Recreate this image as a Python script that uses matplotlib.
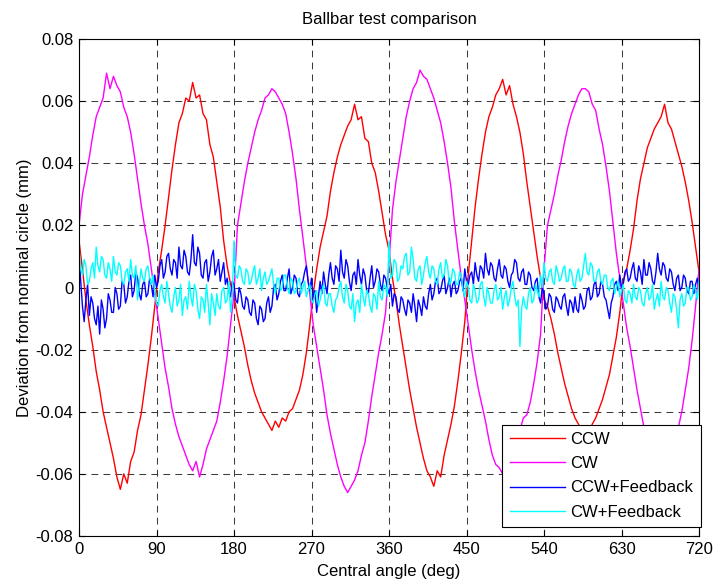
import numpy as np
import matplotlib
matplotlib.use("Agg")
import matplotlib.pyplot as plt

plt.rcParams['font.family'] = ['Liberation Sans', 'DejaVu Sans']
plt.rcParams['axes.unicode_minus'] = False

# open-loop runs sampled every 4 deg, feedback runs every 2 deg
angle = np.arange(0, 724, 4)
angle_fb = np.arange(0, 722, 2)

ccw = [
    0.015, 0.006, -0.004, -0.012, -0.019, -0.027, -0.033, -0.040, -0.045, -0.050,
    -0.055, -0.061, -0.065, -0.060, -0.063, -0.056, -0.053, -0.046, -0.041, -0.033,
    -0.025, -0.016, -0.006, 0.005, 0.012, 0.020, 0.029, 0.038, 0.046, 0.053,
    0.056, 0.061, 0.060, 0.066, 0.061, 0.062, 0.056, 0.054, 0.046, 0.042,
    0.034, 0.026, 0.015, 0.007, 0.001, -0.003, -0.009, -0.014, -0.019, -0.025,
    -0.030, -0.034, -0.037, -0.040, -0.042, -0.044, -0.046, -0.043, -0.045, -0.042,
    -0.043, -0.040, -0.039, -0.036, -0.033, -0.028, -0.021, -0.012, -0.002, 0.006,
    0.013, 0.018, 0.023, 0.031, 0.037, 0.042, 0.046, 0.049, 0.052, 0.054,
    0.059, 0.054, 0.055, 0.048, 0.047, 0.040, 0.037, 0.031, 0.024, 0.017,
    0.012, 0.003, -0.004, -0.012, -0.019, -0.026, -0.033, -0.039, -0.045, -0.050,
    -0.055, -0.059, -0.061, -0.064, -0.059, -0.061, -0.054, -0.049, -0.044, -0.038,
    -0.030, -0.021, -0.011, 0.004, 0.015, 0.026, 0.035, 0.043, 0.050, 0.055,
    0.058, 0.062, 0.064, 0.067, 0.062, 0.065, 0.059, 0.055, 0.050, 0.043,
    0.034, 0.026, 0.018, 0.010, 0.003, -0.004, -0.006, -0.010, -0.015, -0.021,
    -0.026, -0.031, -0.035, -0.039, -0.042, -0.044, -0.046, -0.045, -0.047, -0.044,
    -0.042, -0.039, -0.036, -0.032, -0.028, -0.022, -0.016, -0.008, 0.002, 0.006,
    0.012, 0.019, 0.028, 0.035, 0.040, 0.045, 0.048, 0.051, 0.053, 0.055,
    0.059, 0.053, 0.051, 0.047, 0.043, 0.039, 0.034, 0.028, 0.021, 0.013,
    0.005,
]

cw = [
    0.020, 0.030, 0.036, 0.042, 0.049, 0.055, 0.058, 0.061, 0.069, 0.064,
    0.068, 0.065, 0.063, 0.058, 0.055, 0.050, 0.043, 0.035, 0.027, 0.020,
    0.014, 0.006, -0.002, -0.010, -0.018, -0.026, -0.032, -0.039, -0.044, -0.048,
    -0.051, -0.054, -0.057, -0.059, -0.056, -0.061, -0.057, -0.052, -0.049, -0.046,
    -0.043, -0.037, -0.030, -0.022, -0.012, -0.002, 0.020, 0.027, 0.034, 0.040,
    0.045, 0.050, 0.054, 0.057, 0.061, 0.062, 0.064, 0.063, 0.061, 0.059,
    0.056, 0.050, 0.043, 0.035, 0.025, 0.016, 0.007, -0.002, -0.012, -0.019,
    -0.026, -0.033, -0.041, -0.047, -0.052, -0.057, -0.061, -0.064, -0.066, -0.064,
    -0.062, -0.059, -0.054, -0.050, -0.043, -0.035, -0.028, -0.021, -0.015, -0.008,
    0.008, 0.025, 0.034, 0.041, 0.048, 0.055, 0.060, 0.064, 0.066, 0.070,
    0.068, 0.067, 0.064, 0.061, 0.057, 0.053, 0.047, 0.040, 0.032, 0.021,
    0.012, 0.003, -0.004, -0.012, -0.020, -0.027, -0.033, -0.038, -0.043, -0.049,
    -0.054, -0.057, -0.058, -0.060, -0.058, -0.056, -0.053, -0.050, -0.046, -0.042,
    -0.041, -0.037, -0.031, -0.024, -0.015, 0.006, 0.020, 0.025, 0.030, 0.036,
    0.041, 0.047, 0.052, 0.056, 0.059, 0.062, 0.064, 0.064, 0.063, 0.059,
    0.057, 0.051, 0.046, 0.039, 0.031, 0.021, 0.011, 0.003, -0.005, -0.013,
    -0.019, -0.026, -0.033, -0.039, -0.045, -0.050, -0.054, -0.057, -0.059, -0.060,
    -0.058, -0.056, -0.052, -0.049, -0.045, -0.040, -0.033, -0.026, -0.017, -0.006,
    0.006,
]

ccw_fb = [
    0.010, 0.002, -0.006, -0.011, -0.004, 0.001, -0.009, -0.003, -0.005, -0.010,
    -0.012, -0.006, -0.015, -0.004, -0.007, -0.013, -0.010, -0.002, -0.004, -0.008,
    -0.008, 0.000, -0.002, -0.007, -0.006, 0.002, 0.001, -0.005, -0.003, 0.002,
    0.004, -0.003, -0.001, 0.005, 0.003, -0.002, -0.004, 0.001, 0.002, -0.003,
    -0.002, 0.003, 0.001, -0.003, 0.004, 0.000, 0.002, 0.007, 0.009, 0.003,
    0.005, 0.010, 0.011, 0.006, 0.004, 0.009, 0.008, 0.003, 0.013, 0.007,
    0.006, 0.012, 0.010, 0.005, 0.004, 0.009, 0.017, 0.008, 0.007, 0.013,
    0.011, 0.004, 0.003, 0.008, 0.009, 0.002, 0.005, 0.010, 0.012, 0.004,
    0.006, 0.009, 0.002, 0.005, 0.008, 0.001, 0.003, -0.001, -0.003, 0.002,
    0.001, -0.004, -0.005, 0.000, -0.002, -0.006, -0.007, -0.003, -0.004, -0.008,
    -0.009, -0.004, -0.005, -0.010, -0.012, -0.006, -0.007, -0.011, -0.010, -0.005,
    -0.003, -0.008, -0.006, 0.000, 0.001, -0.004, -0.002, 0.002, 0.004, -0.001,
    -0.001, 0.003, 0.006, -0.002, 0.000, 0.004, 0.003, -0.002, -0.003, 0.001,
    0.002, 0.005, 0.007, 0.002, -0.001, 0.003, -0.004, -0.001, -0.008, -0.003,
    0.002, -0.002, 0.005, 0.001, -0.002, 0.004, 0.008, 0.003, 0.001, 0.007,
    0.006, 0.002, 0.012, 0.005, 0.003, 0.009, 0.007, 0.002, -0.001, 0.004,
    0.005, 0.001, 0.009, 0.004, 0.001, 0.006, 0.004, -0.001, -0.002, 0.003,
    0.007, 0.000, 0.002, 0.006, 0.005, 0.001, -0.001, 0.004, 0.003, 0.000,
    -0.002, 0.001, -0.006, -0.002, -0.003, -0.007, -0.008, -0.003, -0.004, -0.007,
    -0.009, -0.004, -0.005, -0.008, -0.002, -0.006, -0.011, -0.004, -0.006, -0.009,
    -0.003, -0.006, -0.007, -0.002, 0.001, -0.004, -0.002, 0.002, 0.003, -0.002,
    -0.001, 0.002, 0.004, -0.002, 0.000, 0.003, -0.003, 0.001, 0.002, -0.002,
    -0.001, 0.002, 0.003, -0.001, 0.006, 0.002, 0.001, 0.004, 0.005, 0.001,
    0.008, 0.004, 0.002, 0.007, 0.006, 0.003, 0.011, 0.006, 0.004, 0.008,
    0.007, 0.003, 0.002, 0.006, 0.009, 0.004, 0.003, 0.007, 0.006, 0.002,
    0.000, 0.004, 0.005, 0.009, 0.008, 0.003, 0.002, 0.005, 0.006, 0.001,
    0.001, 0.005, 0.004, 0.000, -0.001, 0.002, 0.003, -0.003, -0.005, 0.000,
    -0.002, -0.007, -0.006, -0.002, -0.003, -0.007, -0.008, -0.003, -0.004, -0.006,
    -0.007, -0.003, -0.002, -0.006, -0.009, -0.004, -0.005, -0.008, -0.003, -0.007,
    -0.008, -0.002, -0.004, -0.007, -0.006, -0.001, 0.000, -0.004, -0.003, 0.001,
    0.002, -0.003, -0.002, 0.002, 0.001, -0.003, -0.004, -0.007, -0.010, -0.005,
    -0.003, 0.001, 0.002, -0.001, 0.004, 0.000, 0.001, 0.005, 0.006, 0.002,
    0.003, 0.006, 0.008, 0.003, 0.002, 0.007, 0.005, 0.001, 0.009, 0.004,
    0.004, 0.008, 0.006, 0.002, 0.001, 0.005, 0.011, 0.006, 0.004, 0.008,
    0.007, 0.003, 0.002, 0.006, 0.005, 0.001, -0.001, 0.003, 0.004, -0.001,
    0.000, 0.004, 0.003, -0.001, -0.002, 0.002, 0.002, -0.002, 0.001, 0.003,
    0.000,
]

cw_fb = [
    0.013, 0.006, 0.004, 0.009, 0.007, 0.001, 0.002, 0.006, 0.008, 0.003,
    0.013, 0.007, 0.005, 0.010, 0.009, 0.004, 0.003, 0.008, 0.006, 0.002,
    0.010, 0.005, 0.004, 0.008, 0.007, 0.002, 0.001, 0.005, 0.006, 0.002,
    0.009, 0.004, 0.003, 0.007, -0.004, 0.001, 0.006, 0.003, 0.002, 0.006,
    0.007, 0.003, 0.001, 0.004, -0.002, -0.005, -0.006, -0.001, 0.001, -0.003,
    -0.005, 0.002, -0.002, -0.006, -0.008, -0.003, 0.000, -0.006, -0.004, 0.001,
    -0.009, -0.004, -0.003, -0.007, 0.002, -0.003, -0.006, 0.001, -0.001, -0.007,
    -0.010, -0.003, -0.004, -0.008, 0.001, -0.005, -0.012, -0.002, -0.005, -0.009,
    -0.002, -0.006, -0.007, -0.001, 0.000, -0.005, -0.004, 0.002, -0.008, -0.003,
    0.015, 0.004, 0.003, 0.007, 0.006, 0.002, 0.001, 0.006, 0.005, 0.001,
    0.002, 0.005, 0.007, 0.001, 0.003, 0.006, -0.001, 0.003, 0.005, 0.001,
    0.002, 0.004, 0.006, 0.001, -0.002, 0.003, 0.003, -0.001, 0.000, 0.004,
    0.004, 0.000, -0.002, 0.003, 0.002, -0.002, -0.001, 0.002, 0.003, -0.002,
    0.000, 0.002, -0.003, -0.001, 0.001, -0.004, -0.005, -0.002, -0.001, -0.006,
    -0.004, -0.001, 0.001, -0.005, -0.006, -0.002, -0.002, -0.006, -0.008, -0.004,
    -0.003, 0.000, 0.002, -0.003, -0.005, 0.001, -0.001, -0.006, -0.007, -0.002,
    -0.011, -0.005, -0.004, -0.008, 0.001, -0.003, -0.006, -0.001, -0.002, -0.006,
    -0.008, -0.002, -0.003, -0.007, 0.002, -0.003, -0.004, 0.001, 0.000, -0.003,
    0.015, 0.003, 0.004, 0.009, 0.008, 0.002, 0.003, 0.007, 0.006, 0.010,
    0.011, 0.004, 0.005, 0.013, 0.009, 0.003, 0.002, 0.006, 0.007, 0.001,
    0.004, 0.008, 0.010, 0.005, 0.003, 0.007, 0.006, 0.002, 0.001, 0.006,
    0.008, 0.003, 0.004, 0.009, 0.007, 0.001, 0.002, 0.006, 0.005, 0.001,
    0.001, 0.005, 0.004, -0.001, -0.003, 0.002, 0.000, -0.004, -0.005, 0.001,
    -0.001, -0.005, -0.004, 0.001, 0.002, -0.003, -0.006, 0.000, -0.002, -0.005,
    -0.005, -0.001, 0.001, -0.004, -0.003, 0.000, -0.007, -0.003, -0.001, -0.006,
    -0.004, 0.000, 0.002, -0.003, -0.006, -0.004, -0.019, -0.007, -0.003, -0.006,
    -0.007, -0.002, 0.000, -0.005, -0.004, 0.001, -0.001, -0.003, 0.004, 0.000,
    0.008, 0.003, 0.002, 0.005, 0.006, 0.002, 0.001, 0.007, 0.005, 0.002,
    0.003, 0.006, 0.007, 0.002, 0.002, 0.006, 0.005, 0.001, 0.000, 0.004,
    0.006, 0.002, 0.003, 0.007, 0.011, 0.005, 0.004, 0.008, 0.007, 0.002,
    0.002, 0.005, 0.006, 0.002, 0.001, 0.004, 0.004, 0.000, -0.001, 0.002,
    0.003, -0.002, 0.000, 0.002, -0.003, -0.001, 0.001, -0.004, -0.005, -0.001,
    -0.002, -0.005, 0.001, -0.003, -0.004, 0.000, -0.001, -0.005, -0.006, -0.002,
    0.000, -0.004, -0.003, 0.001, -0.007, -0.004, -0.002, -0.006, 0.002, -0.003,
    -0.004, 0.000, -0.001, -0.005, -0.008, -0.002, -0.003, -0.007, -0.013, -0.004,
    -0.002, -0.006, -0.005, 0.000, 0.000, -0.004, -0.003, 0.001, -0.001, -0.004,
    0.002,
]

series_labels = ["CCW", "CW", "CCW+Feedback", "CW+Feedback"]
series_colors = ["#ff0000", "#ff00ff", "#0000ff", "#00ffff"]

xticks = [0, 90, 180, 270, 360, 450, 540, 630, 720]
yticks = [-0.08, -0.06, -0.04, -0.02, 0, 0.02, 0.04, 0.06, 0.08]
ytick_labels = ["-0.08", "-0.06", "-0.04", "-0.02", "0", "0.02", "0.04", "0.06", "0.08"]

fig = plt.figure(figsize=(7.13, 5.83), dpi=100)
ax = fig.add_axes([0.1108, 0.0806, 0.8696, 0.8525])

xs = [angle, angle, angle_fb, angle_fb]
for x, y, lab, col in zip(xs, [ccw, cw, ccw_fb, cw_fb], series_labels, series_colors):
    ax.plot(x, y, color=col, lw=1.0, label=lab)

ax.set_xlim(0, 720)
ax.set_ylim(-0.08, 0.08)
ax.set_xticks(xticks)
ax.set_yticks(yticks)
ax.set_yticklabels(ytick_labels)
ax.tick_params(direction='in', length=4, width=0.8, top=True, right=True,
               labelsize=12, pad=4)
ax.set_axisbelow(True)
ax.grid(True, color='#3c3c3c', lw=0.75, linestyle=(0, (6.5, 5)))
for s in ax.spines.values():
    s.set_linewidth(0.8)

ax.set_title("Ballbar test comparison", fontsize=12, pad=11)
ax.set_xlabel("Central angle (deg)", fontsize=12, labelpad=5)
ax.set_ylabel("Deviation from nominal circle (mm)", fontsize=12, labelpad=2.5)

leg = ax.legend(loc='lower right', bbox_to_anchor=(1.003, 0.018), borderaxespad=0,
                fancybox=False, framealpha=1, edgecolor='black', fontsize=12,
                handlelength=3.3, handletextpad=0.35, labelspacing=0.55,
                borderpad=0.45)
leg.get_frame().set_linewidth(0.8)

fig.savefig("out.png", dpi=100)
